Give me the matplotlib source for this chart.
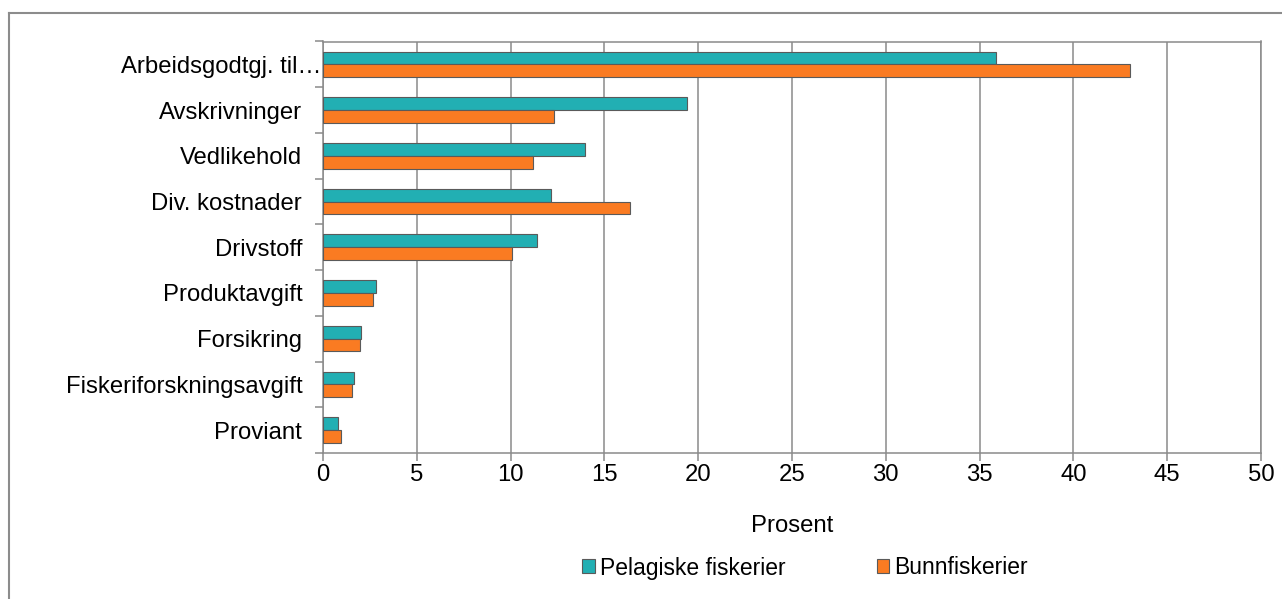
import numpy as np
import matplotlib.pyplot as plt
from matplotlib.lines import Line2D
from matplotlib.transforms import ScaledTranslation

plt.rcParams['font.family'] = ['Liberation Sans', 'DejaVu Sans']

# Data (percent of costs)
categories = ['Arbeidsgodtgj. til…', 'Avskrivninger', 'Vedlikehold', 'Div. kostnader',
              'Drivstoff', 'Produktavgift', 'Forsikring', 'Fiskeriforskningsavgift', 'Proviant']
pelagiske = [35.9, 19.4, 13.95, 12.15, 11.4, 2.85, 2.0, 1.65, 0.8]
bunn = [43.0, 12.3, 11.2, 16.35, 10.05, 2.65, 1.95, 1.55, 0.95]

teal = '#22AFB3'
orange = '#FA7B22'
edge = '#5a5a5a'
grid = '#8a8a8a'
fs = 17.2

W, H = 1282, 599
fig = plt.figure(figsize=(W / 100, H / 100), dpi=100)
ax = fig.add_axes([323 / W, 1 - 453 / H, (1261 - 323) / W, (453 - 41.5) / H])

y = np.arange(len(categories))
h = 0.28
ax.barh(y - h / 2, pelagiske, height=h, color=teal, edgecolor=edge, linewidth=0.8,
        label='Pelagiske fiskerier', zorder=3)
ax.barh(y + h / 2, bunn, height=h, color=orange, edgecolor=edge, linewidth=0.8,
        label='Bunnfiskerier', zorder=3)

ax.set_xlim(0, 50)
ax.set_ylim(len(categories) - 0.5, -0.5)
ax.set_xticks(np.arange(0, 51, 5))
ax.grid(axis='x', color=grid, linewidth=1.1, zorder=0)
ax.set_axisbelow(True)

ax.set_yticks(y)
ax.set_yticklabels(categories)
ax.set_yticks(np.arange(-0.5, len(categories), 1), minor=True)
ax.tick_params(axis='y', which='major', length=0, pad=15, labelsize=fs)
ax.tick_params(axis='y', which='minor', length=6, width=1.1, color=grid, direction='out')
ax.tick_params(axis='x', length=6, width=1.1, color=grid, direction='out', labelsize=fs, pad=2)

# long first label is cut short and runs up to the axis
lbl = ax.get_yticklabels()[0]
lbl.set_transform(lbl.get_transform() + ScaledTranslation(19 / 100, 0, fig.dpi_scale_trans))

for s in ax.spines.values():
    s.set_color(grid)
    s.set_linewidth(1.1)

ax.set_xlabel('Prosent', fontsize=fs, labelpad=21)

fig.legend(loc='center', bbox_to_anchor=(805 / W, 1 - 568 / H), ncol=2, frameon=False,
           fontsize=16.5, handlelength=0.55, handleheight=0.55, handletextpad=0.2,
           columnspacing=4.0)

# outer chart border (left and top visible)
fig.add_artist(Line2D([9 / W, 9 / W], [0, 1 - 13 / H], color='#8c8c8c', linewidth=1.5,
                      transform=fig.transFigure))
fig.add_artist(Line2D([9 / W, 1], [1 - 13 / H, 1 - 13 / H], color='#8c8c8c', linewidth=1.5,
                      transform=fig.transFigure))

fig.savefig('out.png', dpi=100)
